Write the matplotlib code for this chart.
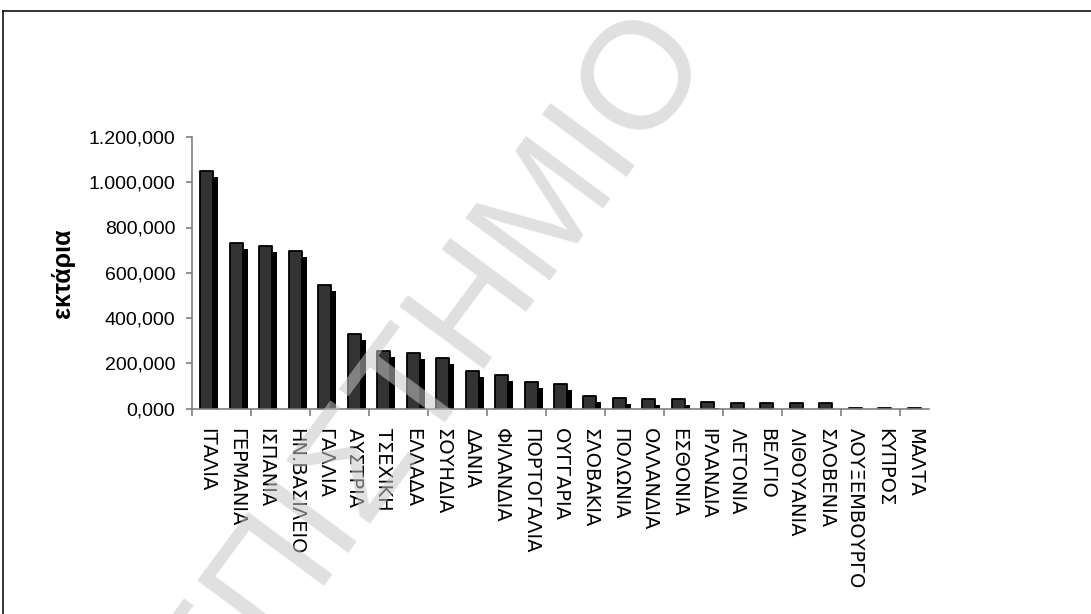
import matplotlib
matplotlib.use("Agg")
import matplotlib.pyplot as plt
from matplotlib.ticker import FuncFormatter, FixedLocator
from matplotlib.transforms import ScaledTranslation
from matplotlib.lines import Line2D

# Organic farming area per EU country (thousand hectares)
countries = [
    "ΙΤΑΛΙΑ", "ΓΕΡΜΑΝΙΑ", "ΙΣΠΑΝΙΑ", "ΗΝ.ΒΑΣΙΛΕΙΟ", "ΓΑΛΛΙΑ", "ΑΥΣΤΡΙΑ",
    "ΤΣΕΧΙΚΗ", "ΕΛΛΑΔΑ", "ΣΟΥΗΔΙΑ", "ΔΑΝΙΑ", "ΦΙΛΑΝΔΙΑ", "ΠΟΡΤΟΓΑΛΙΑ",
    "ΟΥΓΓΑΡΙΑ", "ΣΛΟΒΑΚΙΑ", "ΠΟΛΩΝΙΑ", "ΟΛΛΑΝΔΙΑ", "ΕΣΘΟΝΙΑ", "ΙΡΛΑΝΔΙΑ",
    "ΛΕΤΟΝΙΑ", "ΒΕΛΓΙΟ", "ΛΙΘΟΥΑΝΙΑ", "ΣΛΟΒΕΝΙΑ", "ΛΟΥΞΕΜΒΟΥΡΓΟ", "ΚΥΠΡΟΣ",
    "ΜΑΛΤΑ",
]
area = [
    1048, 731, 720, 694, 548, 329,
    254, 244, 223, 164, 150, 117,
    110, 54, 47, 40, 40, 28,
    25, 25, 23, 23, 3, 2,
    2,
]
y_ticks = [0, 200, 400, 600, 800, 1000, 1200]
y_label = "εκτάρια"
watermark = "ΠΑΝΕΠΙΣΤΗΜΙΟ"

W, H, DPI = 1091, 614, 100
fig = plt.figure(figsize=(W / DPI, H / DPI), dpi=DPI)
fig.patch.set_facecolor("white")

ax = fig.add_axes([192 / W, 1 - 408.5 / H, (929 - 192) / W, (408.5 - 137) / H])

x = list(range(len(countries)))

# drop shadow behind each bar, shifted right and down
shadow_tf = ax.transData + ScaledTranslation(5 / DPI, -6 / DPI, fig.dpi_scale_trans)
ax.bar(x, area, width=0.44, color="black", linewidth=0,
       transform=shadow_tf, zorder=2)
# front bars
ax.bar(x, area, width=0.44, color="#333333", edgecolor="black",
       linewidth=1.3, joinstyle="round", zorder=3)

ax.set_xlim(-0.5, len(countries) - 0.5)
ax.set_ylim(0, 1200)

def greek_number(v, _):
    s = f"{v:,.3f}"
    return s.replace(",", "X").replace(".", ",").replace("X", ".")

ax.yaxis.set_major_locator(FixedLocator(y_ticks))
ax.yaxis.set_major_formatter(FuncFormatter(greek_number))

ax.set_xticks(x)
ax.set_xticklabels(countries, rotation=-90, fontsize=14,
                   family="DejaVu Sans")
ax.set_xticks([i - 0.5 for i in range(0, len(countries), 2)], minor=True)
ax.tick_params(axis="x", which="major", length=0, pad=14)
ax.tick_params(axis="x", which="minor", length=5, width=1.2,
               color="#808080", direction="out")
ax.tick_params(axis="y", length=4, width=1.2, color="#808080",
               direction="out", pad=8)
for lab in ax.get_yticklabels():
    lab.set_fontsize(14)
    lab.set_family("Liberation Sans")

for side in ("top", "right"):
    ax.spines[side].set_visible(False)
for side in ("left", "bottom"):
    ax.spines[side].set_color("#808080")
    ax.spines[side].set_linewidth(1.2)
    ax.spines[side].set_zorder(4)

ax.set_ylabel(y_label, fontsize=18, fontweight="bold",
              family="Liberation Sans", labelpad=10)

# outer chart frame (top and left edges)
fig.add_artist(Line2D([3 / W, 1.0], [1 - 11 / H, 1 - 11 / H],
                      transform=fig.transFigure, color="black", lw=1.1))
fig.add_artist(Line2D([3 / W, 3 / W], [0.0, 1 - 11 / H],
                      transform=fig.transFigure, color="black", lw=1.1))

# diagonal watermark over the chart
fig.text(710 / W, 1 - 48 / H, watermark, rotation=53.5,
         rotation_mode="anchor", ha="right", va="baseline",
         fontsize=110, family="Liberation Sans",
         color=(0.78, 0.78, 0.78), alpha=0.55, zorder=10)

fig.savefig("out.png", dpi=DPI, facecolor="white")
